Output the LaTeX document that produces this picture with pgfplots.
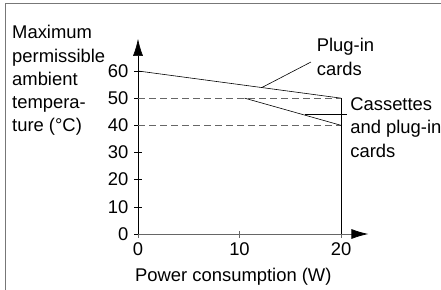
\documentclass[border=0pt]{standalone}
\usepackage{pgfplots}
\pgfplotsset{compat=1.18}
\usepackage{fontspec}
\setmainfont{Liberation Sans}
\usetikzlibrary{arrows.meta}
\definecolor{framegray}{HTML}{777777}
\definecolor{axgray}{HTML}{666666}
\definecolor{dashgray}{HTML}{666666}
\begin{document}
\begin{tikzpicture}[font=\fontsize{18.4}{23.25}\selectfont]
\begin{axis}[
  anchor=origin, at={(0pt,0pt)},
  x=10.15pt, y=2.717pt,
  xmin=0, xmax=22.7, ymin=0, ymax=71.8,
  axis x line=bottom, axis y line=left,
  x axis line style={axgray, line width=0.8pt, -{Latex[length=17pt,width=10pt,black]}},
  y axis line style={black, line width=0.6pt, -{Latex[length=17pt,width=10pt,black]}},
  xtick={0,10,20}, ytick={0,10,...,60},
  tick align=center, major tick length=7pt,
  xtick style={axgray, line width=0.8pt},
  ytick style={black, line width=0.6pt},
  /pgf/number format/assume math mode=true,
  ticklabel style={font=\fontsize{18.4}{21}\selectfont},
  yticklabel style={inner sep=0pt, xshift=-6pt},
  xticklabel style={inner sep=0pt, yshift=-5pt},
  clip=false,
]
\addplot[black, line width=0.6pt] coordinates {(0,60) (20,50)};
\addplot[black, line width=0.6pt] coordinates {(20,0) (20,50)};
\addplot[dashgray, line width=0.7pt, dash pattern=on 7pt off 4pt] coordinates {(0,50) (20,50)};
\addplot[dashgray, line width=0.7pt, dash pattern=on 7pt off 4pt] coordinates {(0,40) (20,40)};
\addplot[black, line width=0.6pt] coordinates {(10.5,50) (20,40)};
\addplot[black, line width=0.6pt] coordinates {(12.2,53.9) (17.04,63.3)};
\addplot[black, line width=0.6pt] coordinates {(16.45,44.2) (20.6,44.2)};
\node[anchor=base west, align=left, inner sep=0pt] at (axis cs:17.6,58.5) {Plug-in\\cards};
\node[anchor=base west, align=left, inner sep=0pt] at (axis cs:20.9,28.3) {Cassettes\\and plug-in\\cards};
\end{axis}
\node[anchor=base west, align=left, inner sep=0pt] at (-126pt,102pt) {Maximum\\permissible\\ambient\\tempera-\\ture (°C)};
\node[anchor=base west, inner sep=0pt] at (-3pt,-47pt) {Power consumption (W)};
\draw[framegray, line width=1pt] (-132pt,230pt) rectangle (320pt,-70pt);
\pgfresetboundingbox
\path (-138pt,-55pt) rectangle (303pt,234pt);
\end{tikzpicture}
\end{document}
